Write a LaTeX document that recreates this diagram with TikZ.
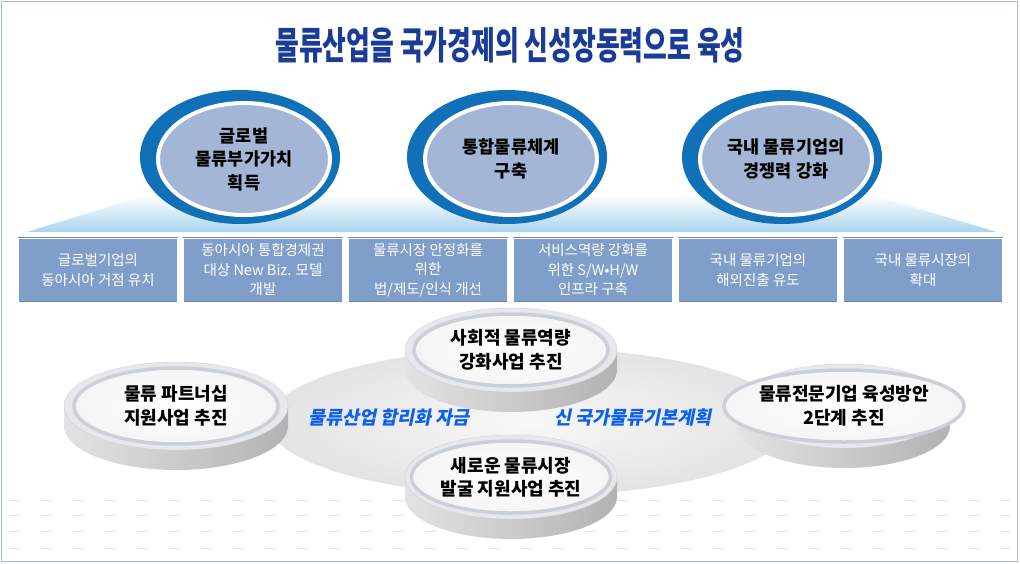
\documentclass[tikz,border=0pt]{standalone}
\usepackage{fontspec}
\setmainfont{Noto Sans CJK KR}
\newfontfamily\slantkr{Noto Sans CJK KR}[FakeSlant=0.2]
\usetikzlibrary{shapes.geometric}
\definecolor{titleblue}{HTML}{1A3C96}
\definecolor{ringblue}{HTML}{1070B8}
\definecolor{goalfill}{HTML}{A3B6D5}
\definecolor{taskfill}{HTML}{7F9FCA}
\definecolor{taskline}{HTML}{7486A0}
\definecolor{skyblue}{HTML}{A9D4EE}
\definecolor{frameline}{HTML}{ABBDD0}
\definecolor{labelblue}{HTML}{0D5FF0}
\definecolor{rimgray}{HTML}{E6E8EB}
\definecolor{groove}{HTML}{CBD0D7}
\begin{document}
\begin{tikzpicture}[x=1pt, y=-1pt, every text node part/.style={align=center}]
        \tikzset{
          goalring/.style={ellipse, fill=ringblue, minimum width=200pt, minimum height=134pt, inner sep=0pt},
          goal/.style={ellipse, fill=goalfill, draw=white, line width=4pt, minimum width=172pt, minimum height=112pt, inner sep=0pt, font=\fontsize{17.5}{23.5}\selectfont\bfseries},
          task/.style={rectangle, fill=taskfill, draw=taskline, double=white, double distance=0.8pt, line width=0.5pt, minimum width=159pt, minimum height=64pt, inner sep=0pt, text=white, font=\fontsize{14.5}{19.5}\selectfont},
          rim/.style={ellipse, fill=rimgray, draw=gray!35, line width=0.4pt, inner sep=0pt},
          disc/.style={ellipse, draw=groove, line width=3.5pt, inner color=white, outer color=gray!8, inner sep=0pt, font=\fontsize{18}{23.5}\selectfont\bfseries},
          side/.style={left color=gray!22, middle color=white, right color=gray!60},
          fundlabel/.style={text=labelblue, font=\slantkr\fontsize{18.5}{22}\selectfont\bfseries},
        }
        \useasboundingbox (0,0) rectangle (1020,563);
        \draw[frameline, line width=1pt] (1.5,1.5) rectangle (1017,561.5);
        \node[text=titleblue, font=\fontsize{38}{42}\selectfont\bfseries] (title) at (510,45) {\scalebox{0.68}[1]{물류산업을 국가경제의 신성장동력으로 육성}};
        % 
        \shade[top color=white, bottom color=skyblue] (27,232) -- (147,195) -- (873,195) -- (997,232) -- cycle;
        \node[goalring] (ring1) at (240,157) {};
        \node[goal] (goal1) at (244,159) {글로벌\\물류부가가치\\획득};
        \node[goalring] (ring2) at (507,157) {};
        \node[goal] (goal2) at (511,159) {통합물류체계\\구축};
        \node[goalring] (ring3) at (782,157) {};
        \node[goal] (goal3) at (786,159) {국내 물류기업의\\경쟁력 강화};
        % 
        \node[task] (task1) at (98,270) {글로벌기업의\\동아시아 거점 유치};
        \node[task] (task2) at (263,270) {동아시아 통합경제권\\대상 New Biz. 모델\\개발};
        \node[task] (task3) at (428,270) {물류시장 안정화를\\위한\\법/제도/인식 개선};
        \node[task] (task4) at (593,270) {서비스역량 강화를\\위한 S/W•H/W\\인프라 구축};
        \node[task] (task5) at (758,270) {국내 물류기업의\\해외진출 유도};
        \node[task] (task6) at (923,270) {국내 물류시장의\\확대};
        % 
        \draw[gray!22, dash pattern=on 10pt off 22pt] (10,500) -- (1010,500);
        \draw[gray!22, dash pattern=on 10pt off 22pt] (10,515) -- (1010,515);
        \draw[gray!22, dash pattern=on 10pt off 22pt] (10,531) -- (1010,531);
        \draw[gray!22, dash pattern=on 10pt off 22pt] (10,548) -- (1010,548);
        \shade[inner color=gray!5, outer color=gray!22] (530,422) ellipse (262 and 74);
        % 
        \shade[side] (176,426) ellipse (112 and 44);
        \shade[side] (64,406) rectangle (288,426);
        \node[rim, minimum width=224pt, minimum height=88pt] (partnerrim) at (176,406) {};
        \node[disc, minimum width=204pt, minimum height=76pt] (partner) at (176,406) {물류 파트너십\\지원사업 추진};
        \shade[side] (511,370) ellipse (106 and 42);
        \shade[side] (405,350) rectangle (617,370);
        \node[rim, minimum width=212pt, minimum height=84pt] (socialrim) at (511,350) {};
        \node[disc, minimum width=194pt, minimum height=72pt] (social) at (511,350) {사회적 물류역량\\강화사업 추진};
        \shade[side] (511,497) ellipse (106 and 42);
        \shade[side] (405,477) rectangle (617,497);
        \node[rim, minimum width=212pt, minimum height=84pt] (marketrim) at (511,477) {};
        \node[disc, minimum width=194pt, minimum height=72pt] (market) at (511,477) {새로운 물류시장\\발굴 지원사업 추진};
        \shade[side] (844,426) ellipse (106 and 42);
        \shade[side] (738,406) rectangle (950,426);
        \node[rim, minimum width=212pt, minimum height=84pt] (expertrim) at (844,406) {};
        \node[disc, minimum width=194pt, minimum height=72pt] (expert) at (844,406) {물류전문기업 육성방안\\2단계 추진};
        % 
        \node[fundlabel] (fund) at (389,418) {물류산업 합리화 자금};
        \node[fundlabel] (plan) at (633,418) {신 국가물류기본계획};
    \end{tikzpicture}
\end{document}
